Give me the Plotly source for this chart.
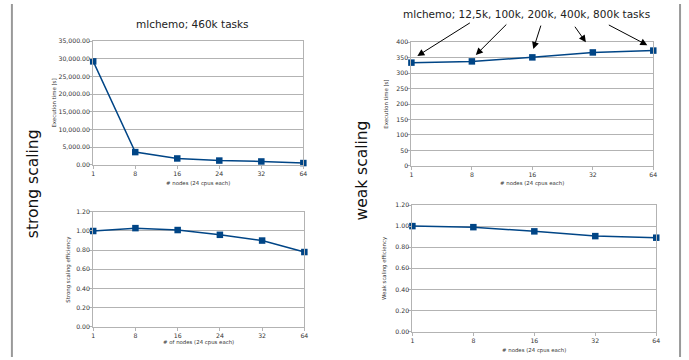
import plotly.graph_objects as go

# ---- data ----
strong_nodes = ["1", "8", "16", "24", "32", "64"]
strong_time = [29300, 3600, 1800, 1200, 950, 500]
strong_eff = [1.00, 1.03, 1.01, 0.96, 0.90, 0.78]

weak_nodes = ["1", "8", "16", "32", "64"]
weak_time = [334, 338, 351, 367, 373]
weak_eff = [1.00, 0.99, 0.95, 0.905, 0.89]

W, H = 689, 360
BLUE = "#004586"
GRID = "#b3b3b3"
FONT = "DejaVu Sans"
TICKC = "#333333"

fig = go.Figure()

def px(x):
    return x / W

def py(y):
    return 1 - y / H

panels = [
    ("x", "y", strong_nodes, strong_time, (92, 304), (38, 164), [0, 35000], 5000, ",.2f",
     "Execution time [s]", "# nodes (24 cpus each)", 52, 183),
    ("x2", "y2", weak_nodes, weak_time, (413, 657), (39, 165), [0, 400], 50, "d",
     "Execution time [s]", "# nodes (24 cpus each)", 387, 183),
    ("x3", "y3", strong_nodes, strong_eff, (92, 305), (212, 329), [0, 1.2], 0.2, ".2f",
     "Strong scaling efficiency", "# of nodes (24 cpus each)", 67, 345),
    ("x4", "y4", weak_nodes, weak_eff, (414, 660), (205, 334), [0, 1.2], 0.2, ".2f",
     "Weak scaling efficiency", "# nodes (24 cpus each)", 386, 353),
]

annotations = []
for i, (xa, ya, cats, vals, xd, yd, yr, dt, fmt, yt, xt, ytx, xty) in enumerate(panels):
    idx = list(range(len(cats)))
    fig.add_trace(go.Scatter(
        x=idx, y=vals, xaxis=xa, yaxis=ya, mode="lines+markers",
        line=dict(color=BLUE, width=1.5),
        marker=dict(symbol="square", size=6.5, color=BLUE),
        cliponaxis=False, showlegend=False, hoverinfo="skip",
    ))
    sfx = "" if i == 0 else str(i + 1)
    fig.layout["xaxis" + sfx] = dict(
        domain=[px(xd[0]), px(xd[1])], anchor=ya,
        range=[0, len(cats) - 1], tickvals=idx, ticktext=cats,
        showgrid=False, zeroline=False, showline=True, linecolor=GRID,
        linewidth=1, mirror=True, ticks="outside", ticklen=3, tickcolor=GRID,
        tickfont=dict(family=FONT, size=6.2, color=TICKC),
    )
    fig.layout["yaxis" + sfx] = dict(
        domain=[py(yd[1]), py(yd[0])], anchor=xa,
        range=yr, dtick=dt, tick0=0, tickformat=fmt,
        showgrid=True, gridcolor=GRID, gridwidth=1, zeroline=False,
        showline=True, linecolor=GRID, linewidth=1, mirror=True,
        ticks="outside", ticklen=3, tickcolor=GRID, ticklabelstandoff=-2,
        tickfont=dict(family=FONT, size=6.2, color=TICKC),
    )
    annotations.append(dict(
        text=yt, x=px(ytx), y=py((yd[0] + yd[1]) / 2), xref="paper", yref="paper",
        textangle=-90, showarrow=False, xanchor="center", yanchor="middle",
        font=dict(family=FONT, size=5.4, color=TICKC),
    ))
    annotations.append(dict(
        text=xt, x=px((xd[0] + xd[1]) / 2), y=py(xty), xref="paper", yref="paper",
        showarrow=False, xanchor="center", yanchor="middle",
        font=dict(family=FONT, size=5.4, color=TICKC),
    ))

annotations.append(dict(text="mlchemo; 460k tasks", x=px(192), y=py(20), xref="paper", yref="paper",
                        showarrow=False, xanchor="center", yanchor="middle",
                        font=dict(family=FONT, size=10.5, color="#222222")))
annotations.append(dict(text="mlchemo; 12,5k, 100k, 200k, 400k, 800k tasks", x=px(529), y=py(10),
                        xref="paper", yref="paper", showarrow=False, xanchor="center", yanchor="middle",
                        font=dict(family=FONT, size=10.5, color="#222222")))

annotations.append(dict(text="strong scaling", x=px(32), y=py(183), xref="paper", yref="paper",
                        textangle=-90, showarrow=False, xanchor="center", yanchor="middle",
                        font=dict(family=FONT, size=15.5, color="#111111")))
annotations.append(dict(text="weak scaling", x=px(363), y=py(170), xref="paper", yref="paper",
                        textangle=-90, showarrow=False, xanchor="center", yanchor="middle",
                        font=dict(family=FONT, size=15.5, color="#111111")))

arrows = [((419, 53), (54, -34)), ((478, 52), (32, -32)), ((536, 46), (8, -25)),
          ((589, 39), (-12, -17)), ((651, 42), (-40, -21))]
for (hx, hy), (ax, ay) in arrows:
    annotations.append(dict(x=px(hx), y=py(hy), xref="paper", yref="paper", text="",
                            showarrow=True, arrowhead=2, arrowsize=1.4, arrowwidth=1,
                            arrowcolor="#000000", ax=ax, ay=ay, standoff=0))

fig.update_layout(
    width=W, height=H, margin=dict(l=0, r=0, t=0, b=0),
    paper_bgcolor="white", plot_bgcolor="white",
    annotations=annotations,
    shapes=[
        dict(type="line", xref="paper", yref="paper", x0=px(10), x1=px(10), y0=0, y1=1,
             line=dict(color="#999999", width=2)),
        dict(type="line", xref="paper", yref="paper", x0=px(684), x1=px(684), y0=0, y1=1,
             line=dict(color="#999999", width=2)),
    ],
)

fig.write_html("out.html", config={"displayModeBar": False},
               post_script="document.body.style.margin='0';document.body.style.overflow='hidden';")
